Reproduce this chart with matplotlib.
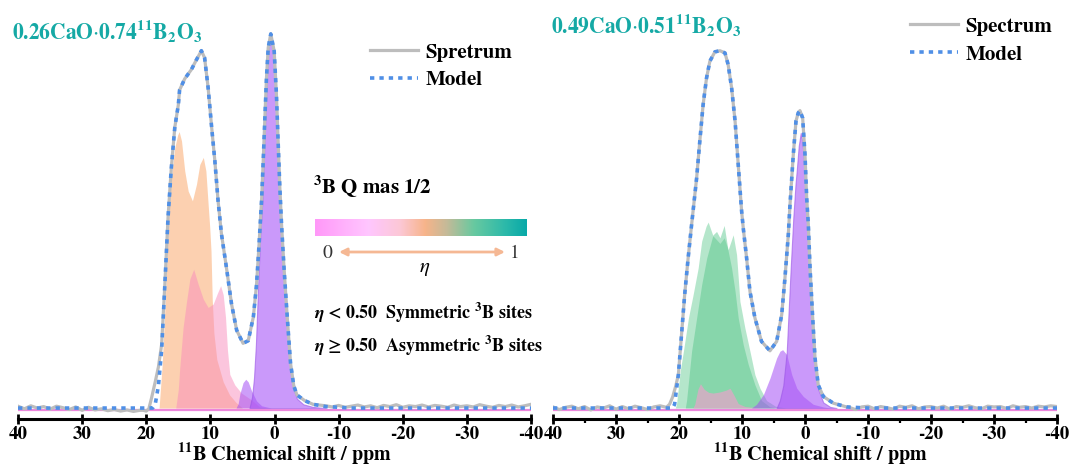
"""11B MAS NMR spectra of two CaO-B2O3 glasses with fitted 3B/4B components"""

import numpy as np
import matplotlib.pyplot as plt
from matplotlib.colors import LinearSegmentedColormap
from matplotlib.lines import Line2D

plt.rcParams['font.family'] = ['STIXGeneral', 'DejaVu Sans']
plt.rcParams['mathtext.fontset'] = 'stix'

# ---------------- left sample : 0.26CaO.0.74B2O3 ----------------
core_l_ppm = [17.1, 16.6, 16.1, 15.55, 15.0, 14.8, 14.0, 12.95, 12.2, 11.4,
              10.9, 10.35, 9.8, 9.3, 8.8, 8.27, 7.5, 6.7, 5.9, 4.9,
              4.1, 3.3, 2.8, 2.4, 2.0, 1.76, 1.5, 1.25, 0.98, 0.58,
              0.05, -0.3, -0.58, -0.83, -1.1, -1.5, -2.0, -2.5, -3.0, -3.5,
              -4.7, -6.0]
core_l = [0.33, 0.51, 0.64, 0.75, 0.81, 0.85, 0.88, 0.905, 0.93, 0.955,
          0.936, 0.856, 0.75, 0.66, 0.554, 0.465, 0.376, 0.278, 0.208, 0.173,
          0.18, 0.243, 0.33, 0.44, 0.56, 0.66, 0.776, 0.883, 0.963, 1.0,
          0.954, 0.838, 0.705, 0.59, 0.49, 0.37, 0.24, 0.12, 0.06, 0.035,
          0.02, 0.01]

# baseline of the measured spectrum (noise read roughly, 1 ppm steps)
base_hi_l_ppm = list(range(40, 20, -1))
base_hi_l = [0.005, -0.002, 0.006, 0.000, 0.004, -0.003, 0.005, 0.001, -0.004, 0.003,
             -0.006, 0.002, -0.005, -0.002, -0.007, -0.004, -0.008, -0.005, -0.009, -0.006]
rise_l_ppm = [20.5, 20.0, 19.6, 19.2, 18.6, 18.1, 17.6]
rise_l = [-0.006, -0.008, -0.002, 0.025, 0.07, 0.11, 0.17]
base_lo_l_ppm = list(range(-8, -41, -1))
base_lo_l = [0.006, 0.003, 0.007, 0.002, 0.005, 0.008, 0.003, 0.006, 0.001, 0.007,
             0.004, 0.009, 0.002, 0.006, 0.004, 0.008, 0.003, 0.007, 0.005, 0.002,
             0.008, 0.004, 0.006, 0.003, 0.009, 0.005, 0.002, 0.007, 0.004, 0.008,
             0.003, 0.006, 0.010]

model_start_l_ppm = [40, 19.0, 18.6, 18.1, 17.6]
model_start_l = [0.0, 0.0, 0.01, 0.06, 0.155]

orange_l_ppm = [18.0, 17.5, 17.0, 16.6, 16.1, 15.55, 15.1, 14.87, 14.5, 14.0,
                13.46, 12.8, 12.17, 11.65, 11.1, 10.7, 10.35, 10.1, 9.9, 9.7,
                9.45, 9.0, 8.0, 7.0, 6.0, 5.0]
orange_l = [0.0, 0.12, 0.30, 0.49, 0.616, 0.696, 0.73, 0.739, 0.714, 0.634,
            0.58, 0.554, 0.598, 0.651, 0.67, 0.634, 0.545, 0.483, 0.42, 0.287,
            0.2, 0.13, 0.07, 0.035, 0.015, 0.0]

pink_l_ppm = [15.4, 15.0, 14.77, 14.25, 13.7, 13.2, 12.6, 11.9, 11.1, 10.35,
              9.56, 8.9, 8.4, 8.0, 7.64, 7.33, 6.97, 6.2, 5.15, 3.6, 2.3, 1.0]
pink_l = [0.0, 0.05, 0.109, 0.216, 0.287, 0.345, 0.371, 0.331, 0.291, 0.269,
          0.278, 0.307, 0.327, 0.303, 0.243, 0.154, 0.09, 0.062, 0.04, 0.022, 0.003, 0.0]

violet_small_l_ppm = [6.0, 5.66, 5.4, 4.9, 4.48, 4.1, 3.6, 2.8, 2.0, 0.5]
violet_small_l = [0.0, 0.012, 0.038, 0.068, 0.077, 0.07, 0.047, 0.019, 0.006, 0.0]

violet_l_ppm = [3.9, 3.5, 3.2, 2.9, 2.55, 2.2, 1.9, 1.7, 1.45, 1.2, 0.95, 0.55,
                0.05, -0.3, -0.58, -0.83, -1.1, -1.5, -2.0, -2.5, -3.0, -3.5, -4.5, -6.0, -8.0]
violet_l = [0.0, 0.03, 0.08, 0.17, 0.33, 0.47, 0.55, 0.65, 0.77, 0.88, 0.96, 0.995,
            0.95, 0.835, 0.70, 0.585, 0.485, 0.365, 0.235, 0.11, 0.05, 0.025, 0.01, 0.003, 0.0]

# ---------------- right sample : 0.49CaO.0.51B2O3 ----------------
core_r_ppm = [20.1, 19.6, 19.1, 18.55, 18.0, 17.2, 16.7, 16.17, 15.63, 15.1,
              14.3, 13.5, 12.7, 12.2, 11.65, 11.1, 10.6, 10.06, 9.8, 9.27,
              8.74, 7.95, 6.9, 5.56, 4.5, 3.7, 3.18, 2.65, 2.38, 1.86,
              1.43, 1.07, 0.8, 0.37, 0.0, -0.27, -0.53, -0.8, -1.22, -1.59,
              -2.1, -2.9, -4.5, -6.6]
core_r = [0.089, 0.196, 0.303, 0.401, 0.49, 0.615, 0.713, 0.811, 0.882, 0.927,
          0.952, 0.955, 0.949, 0.918, 0.856, 0.767, 0.651, 0.526, 0.481, 0.401,
          0.312, 0.241, 0.178, 0.153, 0.178, 0.249, 0.348, 0.463, 0.544, 0.677,
          0.767, 0.789, 0.795, 0.775, 0.677, 0.561, 0.49, 0.374, 0.241, 0.134,
          0.062, 0.031, 0.013, 0.003]

base_hi_r_ppm = list(range(40, 21, -1))
base_hi_r = [0.003, -0.004, 0.002, 0.005, -0.002, 0.004, -0.005, 0.003, 0.000, 0.006,
             -0.003, 0.004, -0.002, 0.005, 0.001, -0.004, 0.003, 0.006, 0.002]
rise_r_ppm = [21.5, 21.0, 20.5]
rise_r = [0.01, 0.03, 0.06]
base_lo_r_ppm = list(range(-7, -41, -1))
base_lo_r = [0.002, -0.004, 0.003, 0.005, -0.002, 0.004, 0.001, -0.003, 0.005, 0.002,
             0.006, -0.002, 0.003, 0.004, 0.000, 0.005, -0.003, 0.004, 0.002, 0.006,
             0.001, -0.002, 0.005, 0.003, 0.004, -0.001, 0.006, 0.002, 0.004, 0.000,
             0.005, 0.003, 0.006, 0.004]

model_start_r_ppm = [40, 21.0, 20.7]
model_start_r = [0.0, 0.0, 0.01]

green_light_r_ppm = [20.6, 20.4, 19.8, 19.3, 18.5, 17.76, 16.96, 16.4, 15.7, 15.37,
                     14.6, 14.04, 13.5, 12.83, 12.2, 11.4, 10.86, 10.33, 9.54, 8.74,
                     7.95, 7.15, 6.1, 4.7, 3.0]
green_light_r = [0.0, 0.01, 0.1, 0.152, 0.241, 0.303, 0.374, 0.446, 0.486, 0.497,
                 0.46, 0.45, 0.44, 0.455, 0.423, 0.463, 0.41, 0.285, 0.214, 0.152,
                 0.089, 0.053, 0.02, 0.005, 0.0]

green_r_ppm = [19.0, 18.8, 18.0, 17.2, 16.4, 15.6, 14.6, 14.04, 13.5, 12.83,
               12.2, 11.65, 11.1, 10.6, 9.8, 9.0, 7.95, 6.9, 5.56, 4.5]
green_r = [0.0, 0.02, 0.152, 0.241, 0.33, 0.401, 0.463, 0.472, 0.455, 0.488,
           0.42, 0.374, 0.312, 0.241, 0.169, 0.116, 0.062, 0.02, 0.003, 0.0]

pink_r_ppm = [17.8, 17.5, 17.0, 16.6, 16.0, 15.3, 14.6, 13.5, 12.5, 11.9,
              11.3, 10.6, 9.5, 7.0]
pink_r = [0.0, 0.01, 0.05, 0.065, 0.05, 0.042, 0.04, 0.043, 0.048, 0.053,
          0.035, 0.012, 0.004, 0.0]

violet_small_r_ppm = [8.5, 7.7, 6.6, 5.56, 4.5, 3.97, 3.55, 2.9, 2.1, 1.3,
                      0.27, -1.3, -2.9, -4.0]
violet_small_r = [0.0, 0.01, 0.036, 0.08, 0.134, 0.152, 0.156, 0.143, 0.089, 0.053,
                  0.031, 0.01, 0.003, 0.0]

violet_r_ppm = [4.5, 4.0, 3.45, 2.9, 2.65, 2.27, 1.86, 1.5, 1.32, 1.0,
                0.68, 0.4, 0.16, -0.27, -0.53, -1.06, -1.59, -2.1, -2.9, -4.0, -5.0]
violet_r = [0.0, 0.02, 0.06, 0.15, 0.241, 0.374, 0.508, 0.6, 0.633, 0.70,
            0.735, 0.71, 0.66, 0.544, 0.463, 0.286, 0.134, 0.05, 0.015, 0.003, 0.0]

# eta colour scale (0 -> 1)
eta_stops = [0.0, 0.25, 0.4, 0.52, 0.62, 0.75, 0.9, 1.0]
eta_colors = ['#ff98f8', '#ffc6ff', '#fcc8d6', '#f7b48a', '#c6ba98', '#68c9a0',
              '#2cb9aa', '#08a9a8']

W, H = 1070, 470
AX_BOTTOM = 51   # px from the bottom edge to the x axis line
AX_HEIGHT = 400


def fx(px):
    return px / W


def fy(py):
    return 1 - py / H


def style_axis(ax, minor):
    ax.set_xlim(40, -40)
    ax.set_ylim(-0.0294 * 400 / 402, 1.045 * 400 / 402)
    for side in ['left', 'right', 'top']:
        ax.spines[side].set_visible(False)
    ax.spines['bottom'].set_linewidth(2.2)
    ax.set_yticks([])
    ax.set_xticks(np.arange(40, -41, -10))
    ax.set_xticklabels(['40', '30', '20', '10', '0', '-10', '-20', '-30', '-40'])
    ax.tick_params(axis='x', which='major', direction='inout', length=7, width=2,
                   pad=1.5, labelsize=13.5)
    for lab in ax.get_xticklabels():
        lab.set_fontweight('bold')
    if minor:
        ax.set_xticks(np.arange(35, -40, -10), minor=True)
        ax.tick_params(axis='x', which='minor', direction='out', length=3, width=1.6)
    ax.set_xlabel(r'$\mathbf{^{11}}$B Chemical shift / ppm', fontsize=14.5,
                  fontweight='bold', va='bottom')
    ax.patch.set_alpha(0)


def draw_lines(ax, spec_x, spec_y, mod_x, mod_y):
    ax.plot([40, -40], [-0.004, -0.004], color='#ec86dc', lw=1.6, zorder=3)
    ax.plot(spec_x, spec_y, color='#bdbdbd', lw=2.3, zorder=4)
    ax.plot(mod_x, mod_y, color='#4f8fe6', lw=2.6, ls=(0, (1.2, 1.4)), zorder=5)


fig = plt.figure(figsize=(W / 100, H / 100), dpi=100)
ax_l = fig.add_axes([fx(18), AX_BOTTOM / H, 513 / W, AX_HEIGHT / H])
ax_r = fig.add_axes([fx(553), AX_BOTTOM / H, 504 / W, AX_HEIGHT / H])
label_y = -(AX_BOTTOM - 3) / AX_HEIGHT

# ---- left panel ----
ax_l.fill_between(orange_l_ppm, 0, orange_l, color='#fbb27c', alpha=0.6, lw=0)
ax_l.fill_between(pink_l_ppm, 0, pink_l, color='#f98cbc', alpha=0.5, lw=0)
ax_l.fill_between(violet_small_l_ppm, 0, violet_small_l, color='#a54ff5', alpha=0.55, lw=0)
ax_l.fill_between(violet_l_ppm, 0, violet_l, color='#a855f7', alpha=0.6,
                  edgecolor='#9a55e6', lw=0.8)
spec_l_x = base_hi_l_ppm + rise_l_ppm + core_l_ppm + base_lo_l_ppm
spec_l_y = base_hi_l + rise_l + core_l + base_lo_l
mod_l_x = model_start_l_ppm + core_l_ppm + [-8, -12, -40]
mod_l_y = model_start_l + core_l + [0.004, 0.0, 0.0]
draw_lines(ax_l, spec_l_x, spec_l_y, mod_l_x, mod_l_y)
style_axis(ax_l, minor=False)
ax_l.xaxis.set_label_coords(0.519, label_y)

# ---- right panel ----
ax_r.fill_between(green_light_r_ppm, 0, green_light_r, color='#5cc98d', alpha=0.45, lw=0)
ax_r.fill_between(green_r_ppm, 0, green_r, color='#4fc486', alpha=0.45, lw=0)
ax_r.fill_between(pink_r_ppm, 0, pink_r, color='#f0a0cc', alpha=0.65, lw=0)
ax_r.fill_between(violet_small_r_ppm, 0, violet_small_r, color='#a54ff5', alpha=0.55, lw=0)
ax_r.fill_between(violet_r_ppm, 0, violet_r, color='#a855f7', alpha=0.6,
                  edgecolor='#9a55e6', lw=0.8)
spec_r_x = base_hi_r_ppm + rise_r_ppm + core_r_ppm + base_lo_r_ppm
spec_r_y = base_hi_r + rise_r + core_r + base_lo_r
mod_r_x = model_start_r_ppm + core_r_ppm + [-10, -40]
mod_r_y = model_start_r + core_r + [0.0, 0.0]
draw_lines(ax_r, spec_r_x, spec_r_y, mod_r_x, mod_r_y)
style_axis(ax_r, minor=True)
ax_r.xaxis.set_label_coords(0.53, label_y)

# ---- titles ----
teal = '#15a9a5'
fig.text(fx(12), fy(31), r'$\mathbf{0.26CaO}{\cdot}\mathbf{0.74^{11}B_{2}O_{3}}$',
         color=teal, fontsize=15.5, va='center', ha='left')
fig.text(fx(551), fy(25), r'$\mathbf{0.49CaO}{\cdot}\mathbf{0.51^{11}B_{2}O_{3}}$',
         color=teal, fontsize=15.5, va='center', ha='left')

# ---- legends ----
leg_prop = {'family': 'STIXGeneral', 'weight': 'bold', 'size': 15}
spec_h = Line2D([], [], color='#bdbdbd', lw=2.3)
mod_h = Line2D([], [], color='#4f8fe6', lw=2.6, ls=(0, (1.2, 1.4)))
ax_l.legend([spec_h, mod_h], ['Spretrum', 'Model'], loc='upper left',
            bbox_to_anchor=(fx(370), fy(43)), bbox_transform=fig.transFigure,
            frameon=False, prop=leg_prop, handlelength=2.3, handletextpad=0.35,
            labelspacing=0.42, borderpad=0, borderaxespad=0)
ax_r.legend([spec_h, mod_h], ['Spectrum', 'Model'], loc='upper left',
            bbox_to_anchor=(fx(910), fy(17)), bbox_transform=fig.transFigure,
            frameon=False, prop=leg_prop, handlelength=2.3, handletextpad=0.35,
            labelspacing=0.45, borderpad=0, borderaxespad=0)

# ---- eta colour bar and notes ----
fig.text(fx(313), fy(187), r'$\mathbf{^{3}}$B Q mas 1/2', fontsize=15,
         fontweight='bold', va='center', ha='left')
cax = fig.add_axes([fx(315), fy(236), 212 / W, 17 / H])
eta_cmap = LinearSegmentedColormap.from_list('eta', list(zip(eta_stops, eta_colors)))
cax.imshow(np.linspace(0, 1, 256)[None, :], aspect='auto', cmap=eta_cmap,
           extent=[0, 1, 0, 1])
cax.set_axis_off()

fig.text(fx(327), fy(253), '0', fontsize=14, va='center', ha='center', color='#333333')
fig.text(fx(515), fy(253), '1', fontsize=14, va='center', ha='center', color='#333333')
fig.text(fx(425), fy(268), r'$\eta$', fontsize=15, va='center', ha='center')
ax_l.annotate('', xy=(fx(505), fy(252)), xytext=(fx(339), fy(252)),
              xycoords='figure fraction', textcoords='figure fraction',
              arrowprops=dict(arrowstyle='<|-|>', color='#f5b894', lw=2,
                              mutation_scale=11, shrinkA=0, shrinkB=0))

fig.text(fx(314), fy(313), r'$\boldsymbol{\eta}$ < 0.50  Symmetric $\mathbf{^{3}}$B sites',
         fontsize=13, fontweight='bold', va='center', ha='left')
fig.text(fx(314), fy(346), r'$\boldsymbol{\eta}$ ≥ 0.50  Asymmetric $\mathbf{^{3}}$B sites',
         fontsize=13, fontweight='bold', va='center', ha='left')

fig.savefig('out.png', dpi=100)
